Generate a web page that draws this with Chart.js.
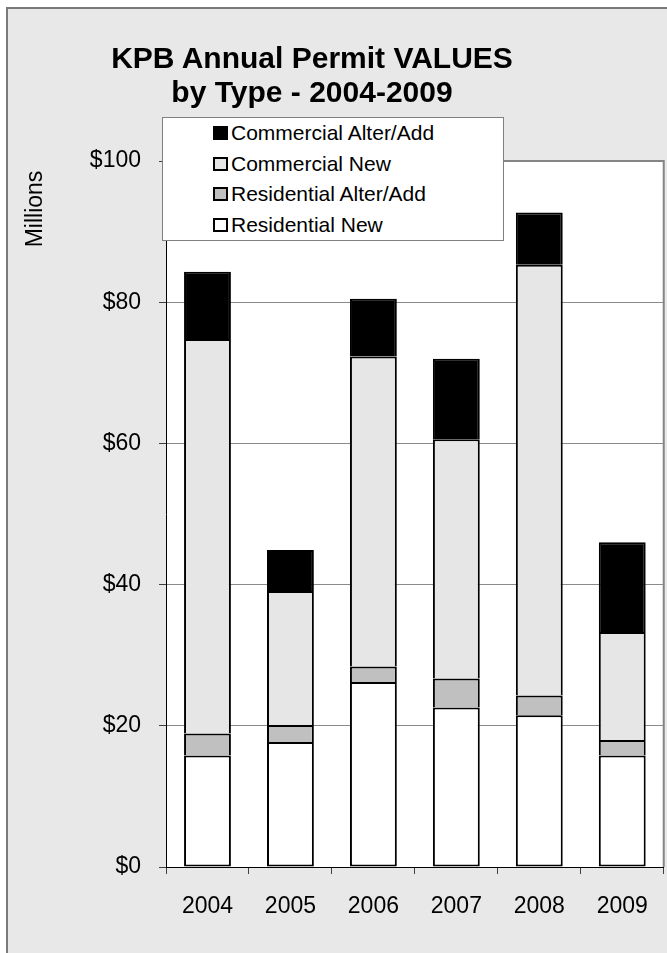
<!DOCTYPE html>
<html>
<head>
<meta charset="utf-8">
<title>KPB Annual Permit VALUES by Type - 2004-2009</title>
<script src="https://cdn.jsdelivr.net/npm/chart.js@4.4.0/dist/chart.umd.min.js"></script>
<style>
  html, body { margin: 0; padding: 0; background: #fff; overflow: hidden; }
  body { width: 667px; height: 953px; position: relative; font-family: "Liberation Sans", Arial, sans-serif; }
  #frame { position: absolute; left: 6px; top: 7px; width: 661px; height: 946px; box-sizing: border-box;
           background: #e8e8e8; border-left: 2px solid #7a7a7a; border-top: 2px solid #7a7a7a; }
  #myChart { position: absolute; left: 0; top: 0; }
  #title { position: absolute; left: 0; width: 624px; top: 41px; text-align: center; font-weight: bold;
           font-size: 30px; line-height: 34px; color: #000; }
  #legend { position: absolute; left: 162px; top: 117px; width: 342px; height: 124px; box-sizing: border-box;
            background: #fff; border: 1px solid #808080; padding: 0 0 0 50px; }
  .item { height: 30.5px; display: flex; align-items: center; font-size: 21px; color: #000; }
  .box { width: 15px; height: 14px; box-sizing: border-box; border: 2px solid #000; margin-right: 3px; }
</style>
</head>
<body>
<div id="frame"></div>
<canvas id="myChart" width="667" height="953"></canvas>
<div id="title">KPB Annual Permit VALUES<br>by Type - 2004-2009</div>
<div id="legend"></div>
<script>
// values in millions of dollars
const years = ['2004', '2005', '2006', '2007', '2008', '2009'];
const residentialNew = [15.8, 17.7, 26.2, 22.6, 21.5, 15.8];
const residentialAlter = [3.1, 2.4, 2.2, 4.1, 2.8, 2.2];
const commercialNew = [55.9, 19.0, 43.9, 33.9, 61.0, 15.3];
const commercialAlter = [9.5, 5.8, 8.2, 11.4, 7.4, 12.7];
const yTicks = [0, 20, 40, 60, 80, 100];

const font = '"Liberation Sans", Arial, sans-serif';

// white plot area with grey top/right border, plus the "Millions" label
const plotArea = {
  id: 'plotArea',
  beforeDraw(chart) {
    const a = chart.chartArea, c = chart.ctx;
    c.save();
    c.fillStyle = '#fff';
    c.fillRect(a.left, a.top, a.right - a.left, a.bottom - a.top);
    c.restore();
  },
  afterDraw(chart) {
    const a = chart.chartArea, c = chart.ctx;
    c.save();
    c.strokeStyle = '#858585';
    c.lineWidth = 2;
    c.beginPath();
    c.moveTo(a.left, a.top);
    c.lineTo(a.right, a.top);
    c.lineTo(a.right, a.bottom);
    c.stroke();
    c.translate(36, a.top + 48);
    c.rotate(-Math.PI / 2);
    c.fillStyle = '#000';
    c.font = '23px ' + font;
    c.textAlign = 'center';
    c.textBaseline = 'middle';
    c.fillText('Millions', 0, 0);
    c.restore();
  }
};

const ctx = document.getElementById('myChart').getContext('2d');
const myChart = new Chart(ctx, {
  type: 'bar',
  data: {
    labels: years,
    datasets: [
      { label: 'Residential New', data: residentialNew, backgroundColor: '#ffffff', borderSkipped: false },
      { label: 'Residential Alter/Add', data: residentialAlter, backgroundColor: '#c0c0c0' },
      { label: 'Commercial New', data: commercialNew, backgroundColor: '#e6e6e6' },
      { label: 'Commercial Alter/Add', data: commercialAlter, backgroundColor: '#000000' }
    ]
  },
  options: {
    responsive: false,
    animation: false,
    layout: { padding: { left: 0, top: 161, right: 2, bottom: 0 } },
    datasets: {
      bar: { borderColor: '#000', borderWidth: 2, barPercentage: 0.565, categoryPercentage: 1 }
    },
    plugins: {
      legend: { display: false },
      tooltip: { enabled: false }
    },
    scales: {
      x: {
        stacked: true,
        grid: { drawOnChartArea: false, tickLength: 7, color: '#404040' },
        border: { color: '#000', width: 1 },
        ticks: { color: '#000', padding: 19, font: { family: font, size: 23 } },
        afterFit(scale) { scale.height = 86; }
      },
      y: {
        stacked: true,
        min: 0,
        max: 100,
        afterBuildTicks(scale) { scale.ticks = yTicks.map(v => ({ value: v })); },
        grid: { color: '#8a8a8a', tickLength: 7, tickColor: '#404040' },
        border: { color: '#000', width: 1 },
        ticks: { color: '#000', padding: 18, font: { family: font, size: 23 }, callback: v => '$' + v },
        afterFit(scale) { scale.width = 166; }
      }
    }
  },
  plugins: [plotArea]
});

// legend, top series first like the original
const legend = document.getElementById('legend');
myChart.data.datasets.slice().reverse().forEach(ds => {
  const row = document.createElement('div');
  row.className = 'item';
  const box = document.createElement('span');
  box.className = 'box';
  box.style.background = ds.backgroundColor;
  row.appendChild(box);
  row.appendChild(document.createTextNode(ds.label));
  legend.appendChild(row);
});
</script>
</body>
</html>
